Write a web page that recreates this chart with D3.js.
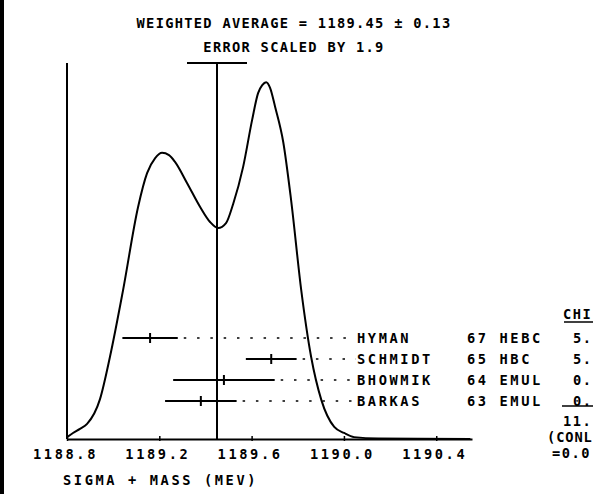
<!DOCTYPE html>
<html><head><meta charset="utf-8">
<script src="https://cdn.jsdelivr.net/npm/d3@7"></script>
<style>html,body{margin:0;padding:0;background:#fff;overflow:hidden}</style>
</head><body>
<svg id="c" width="593" height="494"></svg>
<script>
// ---- data ----
const titleLines = ["WEIGHTED AVERAGE = 1189.45 \u00B1 0.13", "ERROR SCALED BY 1.9"];
const axisLabel = "SIGMA + MASS (MEV)";
const xTicks = [1188.8, 1189.2, 1189.6, 1190.0, 1190.4];
const average = 1189.45;
const averageError = 0.13;
const authors = ["HYMAN", "SCHMIDT", "BHOWMIK", "BARKAS"];
const years = ["67", "65", "64", "63"];
const techniques = ["HEBC", "HBC", "EMUL", "EMUL"];
const values = [1189.16, 1189.685, 1189.48, 1189.38];
const errors = [0.12, 0.11, 0.22, 0.155];
const chiHeader = "CHI";
const chiValues = ["5.", "5.", "0.", "0."];
const chiTotal = "11.";
const confLines = ["(CONL", "=0.0"];
// ideogram curve (mass, relative height 0-100)
const curveMass = [1188.800, 1188.826, 1188.856, 1188.887, 1188.943, 1188.986, 1189.043, 1189.108, 1189.147, 1189.182, 1189.212, 1189.242, 1189.268, 1189.320, 1189.377, 1189.420, 1189.455, 1189.489, 1189.520, 1189.563, 1189.602, 1189.628, 1189.646, 1189.663, 1189.680, 1189.702, 1189.737, 1189.771, 1189.815, 1189.858, 1189.902, 1189.958, 1190.001, 1190.044, 1190.148, 1190.548];
const curveHeight = [0.5, 1.6, 2.7, 4.0, 10.6, 21.8, 39.6, 61.7, 70.7, 74.7, 76.1, 75.5, 73.7, 68.1, 61.7, 57.7, 56.1, 57.4, 62.5, 72.3, 84.8, 92.0, 94.1, 94.9, 93.4, 88.3, 79.0, 63.6, 39.6, 21.8, 10.4, 3.2, 1.6, 0.5, 0.1, 0];

// ---- drawing ----
const svg = d3.select("#c");
const FONT = "'DejaVu Sans Mono', monospace";
const x = d3.scaleLinear().domain([1188.8, 1190.555]).range([67, 472]);
const y = d3.scaleLinear().domain([0, 100]).range([439, 63]);
const row = d3.scalePoint().domain(authors).range([338, 401]);

svg.append("rect").attr("x", 0).attr("y", 0).attr("width", 4).attr("height", 494).attr("fill", "#000");

function txt(s, xx, yy, anchor, ls) {
  return svg.append("text").attr("x", xx).attr("y", yy)
    .attr("text-anchor", anchor || "start")
    .attr("font-family", FONT).attr("font-size", 13.7).attr("font-weight", "bold")
    .attr("letter-spacing", ls == null ? 2.6 : ls)
    .attr("fill", "#000").text(s);
}

// title
txt(titleLines[0], 294, 28, "middle", 1.3);
txt(titleLines[1], 294, 52, "middle", 1.3);

// axis
const axis = d3.axisBottom(x).tickValues(xTicks).tickSize(0).tickFormat(d3.format(".1f"));
const gAxis = svg.append("g").attr("transform", "translate(0,439)").call(axis);
gAxis.select(".domain").attr("stroke", "#000").attr("stroke-width", 2);
gAxis.selectAll(".tick line").remove();
gAxis.selectAll(".tick").append("line").attr("y1", -3).attr("y2", 2).attr("stroke", "#000").attr("stroke-width", 1.5);
gAxis.selectAll(".tick text").attr("y", 20).attr("dy", 0).attr("dx", -2)
  .attr("font-family", FONT).attr("font-size", 13.7).attr("font-weight", "bold")
  .attr("letter-spacing", 2.6).attr("fill", "#000");
txt(axisLabel, 63, 485, "start");

// left vertical axis
svg.append("line").attr("x1", x(1188.8)).attr("x2", x(1188.8)).attr("y1", y(100)).attr("y2", y(0))
  .attr("stroke", "#000").attr("stroke-width", 2);

// average line and error bar
svg.append("line").attr("x1", x(average)).attr("x2", x(average)).attr("y1", y(100)).attr("y2", y(0))
  .attr("stroke", "#000").attr("stroke-width", 2);
svg.append("line").attr("x1", x(average - averageError)).attr("x2", x(average + averageError))
  .attr("y1", y(100)).attr("y2", y(100)).attr("stroke", "#000").attr("stroke-width", 2);

// ideogram
const pts = curveMass.map((m, i) => [m, curveHeight[i]]);
svg.append("path").datum(pts)
  .attr("d", d3.line().x(d => x(d[0])).y(d => y(d[1])).curve(d3.curveMonotoneX))
  .attr("fill", "none").attr("stroke", "#000").attr("stroke-width", 2);

// measurements
authors.forEach((a, i) => {
  const yy = row(a);
  svg.append("line").attr("x1", x(values[i] - errors[i])).attr("x2", x(values[i] + errors[i]))
    .attr("y1", yy).attr("y2", yy).attr("stroke", "#000").attr("stroke-width", 2);
  svg.append("line").attr("x1", x(values[i])).attr("x2", x(values[i]))
    .attr("y1", yy - 5).attr("y2", yy + 5).attr("stroke", "#000").attr("stroke-width", 2);
  svg.append("line").attr("x1", x(values[i] + errors[i]) + 6).attr("x2", 356)
    .attr("y1", yy).attr("y2", yy).attr("stroke", "#000").attr("stroke-width", 1.5)
    .attr("stroke-dasharray", "2.5 10.8");
  txt(a, 357, yy + 5, "start");
  txt(years[i] + " " + techniques[i], 467, yy + 5, "start");
  txt(chiValues[i], 573, yy + 5, "start", 1.5);
});

// chi-square column
txt(chiHeader, 563, 319, "start", 1.5);
svg.append("line").attr("x1", 564).attr("x2", 593).attr("y1", 322).attr("y2", 322).attr("stroke", "#000").attr("stroke-width", 1.5);
svg.append("line").attr("x1", 562).attr("x2", 593).attr("y1", 406).attr("y2", 406).attr("stroke", "#000").attr("stroke-width", 1.5);
txt(chiTotal, 563, 426, "start", 1.5);
txt(confLines[0], 547, 442, "start", 0.9);
txt(confLines[1], 552, 458, "start", 1.5);
</script>
</body></html>
